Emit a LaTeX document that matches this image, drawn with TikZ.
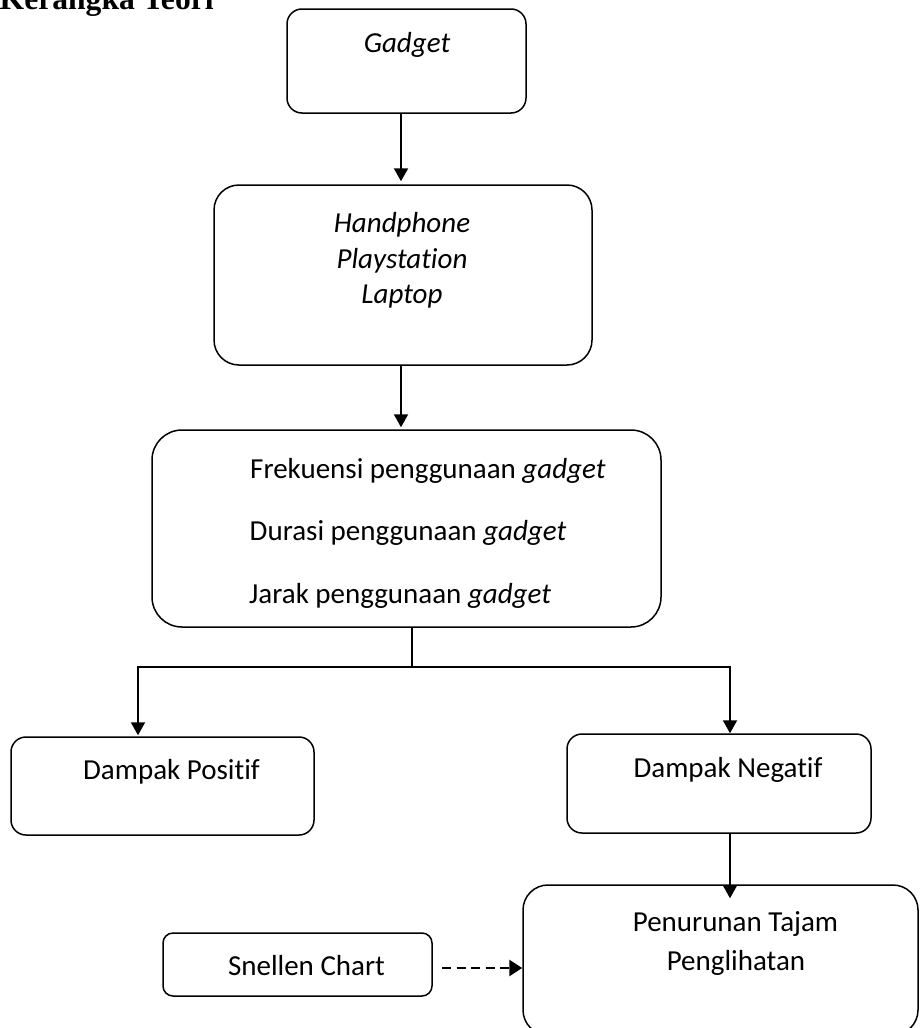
\documentclass[tikz,border=0pt]{standalone}
\usepackage{fontspec}
\setmainfont{Carlito}[Ligatures=NoCommon]
\newfontfamily\titlefont{Liberation Serif}
\usetikzlibrary{arrows.meta}
\tikzset{
  box/.style={draw, line width=1.5pt, inner sep=0pt},
  lbl/.style={inner sep=0pt, anchor=base, font=\fontsize{29}{35}\selectfont},
  lbll/.style={inner sep=0pt, anchor=base west, font=\fontsize{29}{35}\selectfont},
  conn/.style={line width=2pt},
  arr/.style={line width=2pt, -{Triangle[length=13pt,width=14pt]}},
  darr/.style={line width=2.6pt, dash pattern=on 9pt off 5.5pt, -{Triangle[length=13pt,width=16pt]}}
}
\begin{document}
\begin{tikzpicture}[x=1pt,y=-1pt]
\clip (0,0) rectangle (919,1028);
\fill[white] (0,0) rectangle (919,1028);
% title
\node[inner sep=0pt, anchor=base west, font=\titlefont\bfseries\fontsize{31.6}{36}\selectfont] (title) at (-0.5,9) {Kerangka Teori};
% boxes
\node[box, rounded corners=15pt, minimum width=239pt, minimum height=104pt] (gadget) at (406.5,61) {};
\node[box, rounded corners=25pt, minimum width=378pt, minimum height=180pt] (hp) at (403,275) {};
\node[box, rounded corners=30pt, minimum width=509pt, minimum height=197pt] (freq) at (406.5,528.5) {};
\node[box, rounded corners=15pt, minimum width=303pt, minimum height=98pt] (pos) at (162.5,786) {};
\node[box, rounded corners=15pt, minimum width=304pt, minimum height=99pt] (neg) at (719,783.5) {};
\node[box, rounded corners=10pt, minimum width=269pt, minimum height=63pt] (snel) at (297.5,964.5) {};
\node[box, rounded corners=25pt, minimum width=395pt, minimum height=150pt] (pen) at (720.5,960) {};
% texts
\node[lbl] (gadgetT) at (407,52) {\textit{Gadget}};
\node[lbl] (hp1) at (402,232) {\textit{Handphone}};
\node[lbl] (hp2) at (402,268) {\textit{Playstation}};
\node[lbl] (hp3) at (402,303) {\textit{Laptop}};
\node[lbll] (fr1) at (250,478) {Frekuensi penggunaan \textit{gadget}};
\node[lbll] (fr2) at (249.5,540) {Durasi penggunaan \textit{gadget}};
\node[lbll] (fr3) at (249,603) {Jarak penggunaan \textit{gadget}};
\node[lbl] (posT) at (171.5,779) {Dampak Positif};
\node[lbl] (negT) at (728,777) {Dampak Negatif};
\node[lbl] (snelT) at (306.5,975) {Snellen Chart};
\node[lbl] (pen1) at (735.5,931) {Penurunan Tajam};
\node[lbl] (pen2) at (736,970) {Penglihatan};
% connectors
\coordinate (split) at (412,667);
\coordinate (L) at (138,667);
\coordinate (R) at (730,667);
\coordinate (ds) at (442,968);
\draw[arr] (gadget.south -| 401,0) -- ([yshift=3pt]hp.north -| 401,0);
\draw[arr] (hp.south -| 401,0) -- ([yshift=2pt]freq.north -| 401,0);
\draw[conn] (freq.south -| split) -- (split);
\draw[conn] ([xshift=-1pt]L) -- ([xshift=1pt]R);
\draw[arr] (L) -- ([yshift=1pt]pos.north -| L);
\draw[arr] (R) -- (neg.north -| R);
\draw[arr] (neg.south -| R) -- ([yshift=-14pt]pen.north -| R);
\draw[darr] (ds) -- (pen.west |- ds);
\end{tikzpicture}
\end{document}
